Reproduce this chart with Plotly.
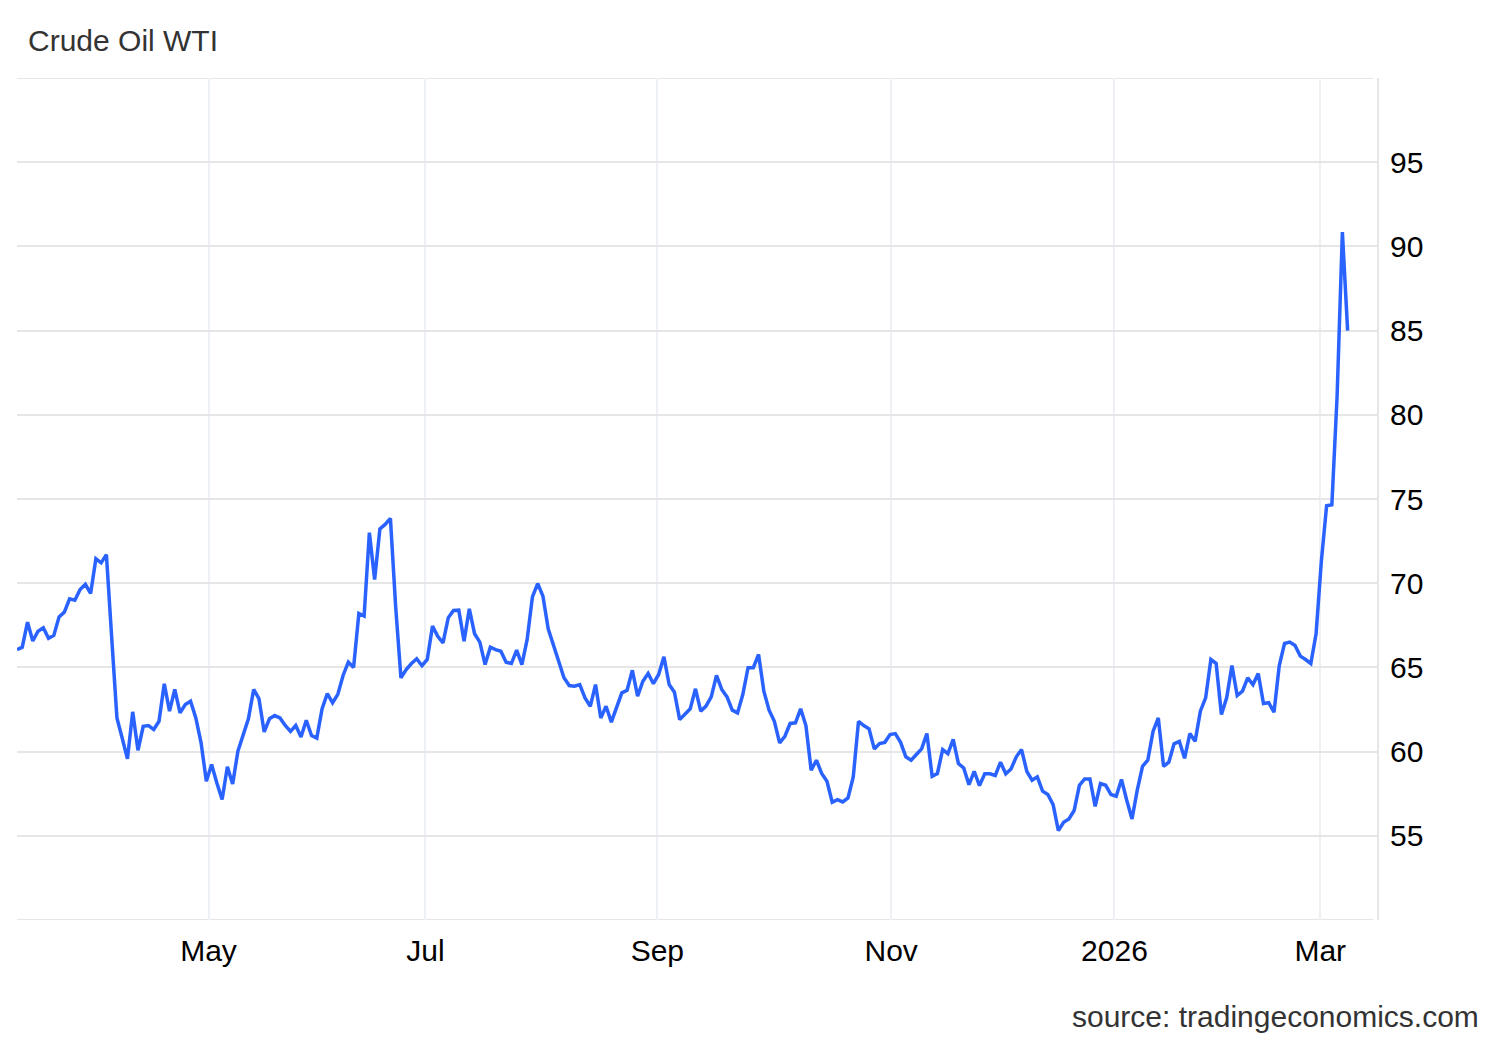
import pandas as pd
import plotly.graph_objects as go

# trading calendar (Mar 10 2025 .. Mar 9 2026), exchange holidays skipped
start, end = "2025-03-10", "2026-03-09"
holidays = ["2025-04-18", "2025-05-26", "2025-07-04", "2025-09-01",
            "2026-01-01", "2026-01-19", "2026-02-16"]

prices = [
    66.06, 66.20, 67.69, 66.57, 67.15, 67.35, 66.73, 66.90, 68.00, 68.28,
    69.07, 68.99, 69.63, 69.93, 69.39, 71.45, 71.21, 71.70, 66.80, 62.00,
    60.80, 59.57, 62.36, 60.08, 61.50, 61.55, 61.31, 61.80, 64.03, 62.40,
    63.69, 62.30, 62.80, 62.99, 62.00, 60.52, 58.24, 59.23, 58.14, 57.15,
    59.10, 58.08, 60.02, 61.01, 61.95, 63.69, 63.15, 61.17, 61.95, 62.14,
    62.00, 61.55, 61.20, 61.55, 60.87, 61.86, 60.95, 60.80, 62.54, 63.45,
    62.90, 63.40, 64.52, 65.31, 65.00, 68.20, 68.05, 73.00, 70.22, 73.23,
    73.49, 73.85, 68.60, 64.38, 64.87, 65.23, 65.51, 65.10, 65.47, 67.45,
    66.85, 66.46, 67.95, 68.38, 68.40, 66.56, 68.48, 67.00, 66.50, 65.17,
    66.20, 66.06, 65.96, 65.31, 65.23, 66.02, 65.17, 66.66, 69.19, 69.98,
    69.23, 67.29, 66.30, 65.31, 64.38, 63.92, 63.88, 63.98, 63.19, 62.69,
    63.98, 62.00, 62.69, 61.75, 62.69, 63.49, 63.64, 64.83, 63.29, 64.18,
    64.64, 64.03, 64.58, 65.63, 63.98, 63.53, 61.90, 62.20, 62.54, 63.73,
    62.40, 62.70, 63.25, 64.52, 63.69, 63.25, 62.46, 62.30, 63.39, 64.98,
    64.98, 65.77, 63.59, 62.46, 61.80, 60.52, 60.91, 61.67, 61.71, 62.54,
    61.55, 58.89, 59.49, 58.70, 58.24, 56.99, 57.15, 57.01, 57.25, 58.50,
    61.80, 61.55, 61.35, 60.16, 60.48, 60.55, 61.01, 61.07, 60.55, 59.69,
    59.49, 59.83, 60.16, 61.07, 58.54, 58.70, 60.12, 59.88, 60.72, 59.29,
    59.03, 58.04, 58.83, 57.98, 58.68, 58.68, 58.58, 59.37, 58.68, 58.97,
    59.69, 60.12, 58.83, 58.30, 58.50, 57.65, 57.45, 56.85, 55.31, 55.80,
    56.00, 56.50, 58.00, 58.38, 58.38, 56.75, 58.10, 58.00, 57.45, 57.35,
    58.34, 57.11, 56.00, 57.71, 59.13, 59.49, 61.20, 62.00, 59.13, 59.37,
    60.46, 60.61, 59.60, 61.07, 60.61, 62.40, 63.19, 65.47, 65.23, 62.20,
    63.19, 65.11, 63.33, 63.59, 64.38, 63.98, 64.64, 62.86, 62.90, 62.34,
    65.11, 66.42, 66.50, 66.30, 65.67, 65.47, 65.23, 67.00, 71.30, 74.60,
    74.66, 81.13, 90.85, 85.00,
]

# month ticks sit where the source draws them on its trading-day axis
tick_dates = ["2025-04-30 10:00", "2025-06-27 16:00", "2025-08-29 18:00",
              "2025-11-03 05:00", "2025-12-31 16:00", "2026-02-27 19:00"]
tick_text = ["May", "Jul", "Sep", "Nov", "2026", "Mar"]
y_ticks = [50, 55, 60, 65, 70, 75, 80, 85, 90, 95, 100]
y_text = ["", "55", "60", "65", "70", "75", "80", "85", "90", "95", ""]

dates = pd.bdate_range(start, end)
dates = dates[~dates.isin(pd.to_datetime(holidays))]

# page body has an 8px margin, so the figure is 1492x1032
W, H = 1492, 1032

fig = go.Figure()
fig.add_trace(go.Scatter(
    x=dates, y=prices, mode="lines",
    line=dict(color="#2962ff", width=3.5),
    hoverinfo="x+y", showlegend=False,
))

fig.update_layout(
    width=W, height=H,
    margin=dict(l=9, r=123, t=70, b=120),
    plot_bgcolor="white", paper_bgcolor="white",
    font=dict(family="Liberation Sans, Arial, sans-serif", size=30, color="#000000"),
    title=dict(text="Crude Oil WTI", x=20 / W, xanchor="left",
               y=1 - 32 / H, yanchor="middle",
               font=dict(size=30, color="#333333")),
)

fig.update_xaxes(
    range=["2025-03-10", "2026-03-16 14:00"],
    rangebreaks=[dict(bounds=["sat", "mon"]), dict(values=holidays)],
    tickmode="array", tickvals=tick_dates, ticktext=tick_text,
    showgrid=True, gridcolor="#edf0f4", gridwidth=2,
    zeroline=False, showline=False, ticks="", ticklabelstandoff=10,
)
fig.update_yaxes(
    side="right", range=[50, 100],
    tickmode="array", tickvals=y_ticks, ticktext=y_text,
    showgrid=True, gridcolor="#e6e6e6", gridwidth=2,
    zeroline=False, showline=True, linecolor="#e6e6e6", linewidth=2,
    ticks="", ticklabelstandoff=5,
)

# top and bottom frame lines
for yv in (50, 100):
    fig.add_shape(type="line", xref="paper", yref="y", x0=0, x1=0.997,
                  y0=yv, y1=yv, line=dict(color="#e6e6e6", width=2), layer="below")

fig.add_annotation(
    text="source: tradingeconomics.com", xref="paper", yref="paper",
    x=(1481 - 17) / 1360, y=(920 - 1016) / 842,
    xanchor="right", yanchor="middle", showarrow=False,
    font=dict(size=30, color="#333333"),
)

fig.write_html("out.html")
